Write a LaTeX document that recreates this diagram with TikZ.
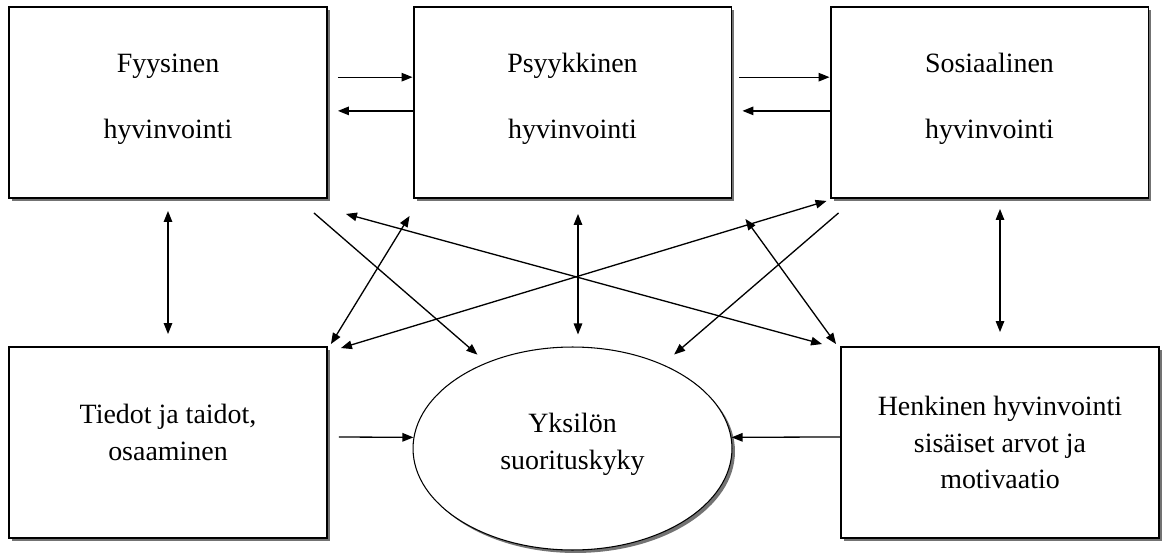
\documentclass[tikz,border=0pt]{standalone}
\usepackage{fontspec}
\setmainfont{Liberation Serif}
\usetikzlibrary{shapes, arrows.meta, shadows}

\begin{document}
\begin{tikzpicture}[x=0.02cm, y=-0.02cm,
	>={Triangle[length=0.22cm, width=0.17cm]},
	box/.style={draw, line width=1.1pt, fill=white, minimum width=6.36cm, minimum height=3.82cm, inner sep=0pt, align=center, font=\fontsize{15.9}{21}\selectfont, drop shadow={shadow xshift=0.06cm, shadow yshift=-0.06cm, fill=black!55, opacity=1}},
	link/.style={line width=0.75pt}]
		\useasboundingbox (0,0) rectangle (1164,554);
		\node[box](fys) at (168,102.5) {\mbox{}\\[-0.5cm]Fyysinen\\[0.58cm]hyvinvointi};
		\node[box](psy) at (572.5,102.5) {\mbox{}\\[-0.5cm]Psyykkinen\\[0.58cm]hyvinvointi};
		\node[box](sos) at (989.5,102.5) {\mbox{}\\[-0.5cm]Sosiaalinen\\[0.58cm]hyvinvointi};
		\node[box](tie) at (168,442.5) {Tiedot ja taidot,\\osaaminen\\[-0.32cm]\mbox{}};
		\node[box](hen) at (1000,442.5) {Henkinen hyvinvointi\\sisäiset arvot ja\\motivaatio};
		\node[box, ellipse, line width=0.6pt, minimum width=6.38cm, minimum height=4.06cm](yks) at (572.5,448.5) {\mbox{}\\[-0.5cm]Yksilön\\suorituskyky};
		\draw[link, ->] ([xshift=0.2cm]fys.9) -- (psy.171);
		\draw[link, ->] (psy.-177) -- ([xshift=0.2cm]fys.-3);
		\draw[link, ->] ([xshift=0.14cm]psy.9) -- (sos.171);
		\draw[link, ->] (sos.-177) -- ([xshift=0.2cm]psy.-3);
		\draw[link, <->, shorten <=0.24cm, shorten >=0.24cm] (fys) -- (tie);
		\draw[link, <->, shorten <=0.3cm, shorten >=0.24cm] ([xshift=0.11cm]psy.south) -- ([xshift=0.11cm]yks.north);
		\draw[link, <->, shorten <=0.2cm, shorten >=0.28cm] (sos.south -| hen.north) -- (hen.north);
		\draw[link, ->, shorten <=0.22cm] (tie.2) -- (yks.176);
		\draw[link, ->] (hen.178) -- (yks.4);
		\draw[link, ->, shorten >=0.24cm] ([xshift=-0.28cm, yshift=-0.28cm]fys.south east) -- (yks.135);
		\draw[link, ->, shorten >=0.3cm] ([xshift=0.18cm, yshift=-0.28cm]sos.south west) -- (yks.43);
		\draw[link, <->] ([xshift=0.36cm, yshift=-0.3cm]fys.south east) -- ([xshift=-0.36cm, yshift=0.04cm]hen.north west);
		\draw[link, <->] ([xshift=-0.06cm, yshift=-0.34cm]psy.south west) -- ([xshift=0.06cm, yshift=0.04cm]tie.north east);
		\draw[link, <->] ([xshift=-0.06cm, yshift=-0.04cm]sos.south west) -- ([xshift=0.26cm, yshift=-0.04cm]tie.north east);
		\draw[link, <->] ([xshift=0.26cm, yshift=-0.4cm]psy.south east) -- ([xshift=-0.08cm, yshift=0.04cm]hen.north west);
	\end{tikzpicture}
\end{document}
